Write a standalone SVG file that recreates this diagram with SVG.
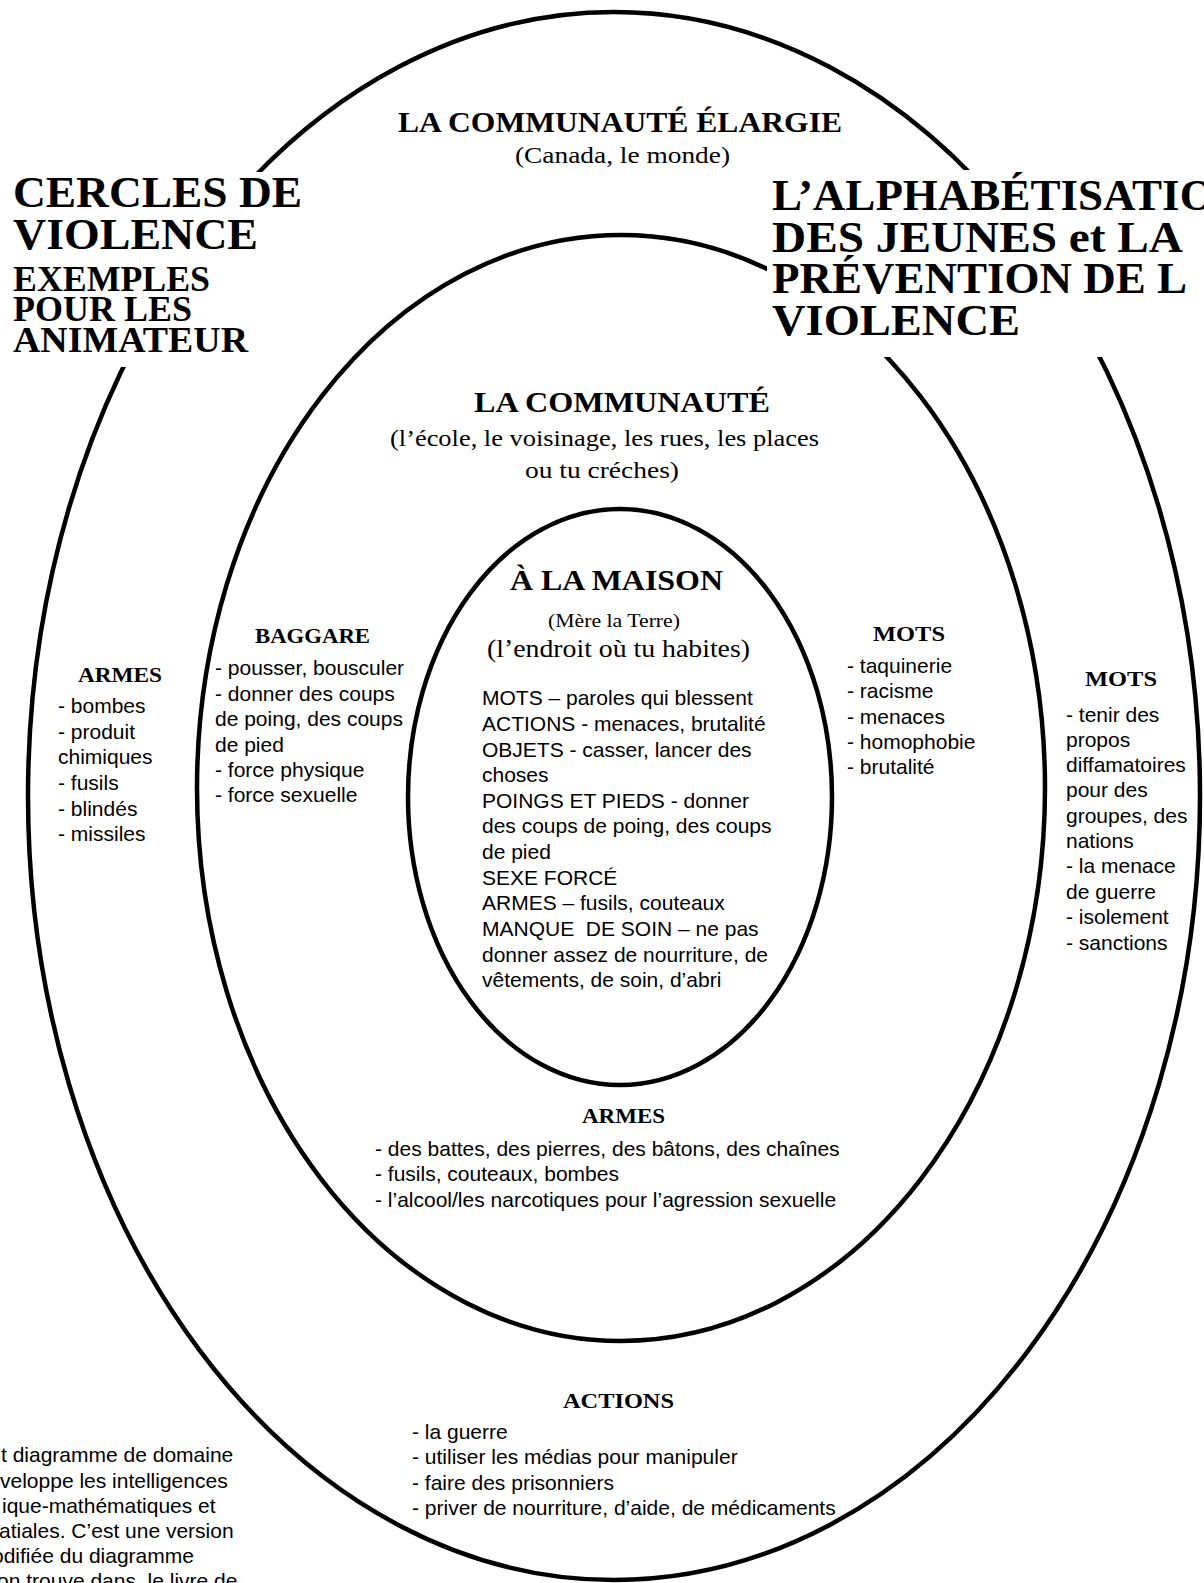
<svg xmlns="http://www.w3.org/2000/svg" width="1204" height="1583" viewBox="0 0 1204 1583">
<style>
.ring{fill:none;stroke:#000;stroke-width:4.5}
.mask{fill:#fff;stroke:none}
.big{font-family:"Liberation Serif",serif;font-weight:bold;font-size:45px;fill:#000}
.sub{font-family:"Liberation Serif",serif;font-weight:bold;font-size:35px;fill:#000}
.h{font-family:"Liberation Serif",serif;font-weight:bold;fill:#000}
.p{font-family:"Liberation Serif",serif;fill:#000}
.t{font-family:"Liberation Sans",Arial,sans-serif;font-size:21px;fill:#000}
.pre{white-space:pre}
</style>
<rect width="1204" height="1583" fill="#fff"/>
<g id="ring-outer"><ellipse class="ring" cx="614" cy="796" rx="586" ry="784"/></g>
<g id="ring-middle"><ellipse class="ring" cx="621" cy="788" rx="424" ry="553"/></g>
<g id="ring-inner"><ellipse class="ring" cx="620" cy="797" rx="212" ry="288"/></g>

<g id="title-left">
<rect class="mask" x="0" y="172" width="308" height="195"/>
<text class="big" x="13" y="207" textLength="289" lengthAdjust="spacingAndGlyphs">CERCLES DE</text>
<text class="big" x="13" y="249" textLength="245" lengthAdjust="spacingAndGlyphs">VIOLENCE</text>
<text class="sub" x="13" y="291" textLength="197" lengthAdjust="spacingAndGlyphs">EXEMPLES</text>
<text class="sub" x="13" y="321" textLength="179" lengthAdjust="spacingAndGlyphs">POUR LES</text>
<text class="sub" x="13" y="352" textLength="235" lengthAdjust="spacingAndGlyphs">ANIMATEUR</text>
</g>

<g id="title-right">
<rect class="mask" x="767" y="170" width="437" height="187"/>
<text class="big" x="772" y="210">L’ALPHABÉTISATIO</text>
<text class="big" x="772" y="252" textLength="411" lengthAdjust="spacingAndGlyphs">DES JEUNES et LA</text>
<text class="big" x="772" y="293">PRÉVENTION DE L</text>
<text class="big" x="772" y="335" textLength="248" lengthAdjust="spacingAndGlyphs">VIOLENCE</text>
</g>

<g id="label-wider">
<text class="h" font-size="29" x="398" y="132" textLength="444" lengthAdjust="spacingAndGlyphs">LA COMMUNAUTÉ ÉLARGIE</text>
<text class="p" font-size="23" x="515" y="163" textLength="215" lengthAdjust="spacingAndGlyphs">(Canada, le monde)</text>
</g>

<g id="label-community">
<text class="h" font-size="30" x="474" y="412" textLength="296" lengthAdjust="spacingAndGlyphs">LA COMMUNAUTÉ</text>
<text class="p" font-size="24" x="390" y="446" textLength="429" lengthAdjust="spacingAndGlyphs">(l’école, le voisinage, les rues, les places</text>
<text class="p" font-size="24" x="525" y="478" textLength="154" lengthAdjust="spacingAndGlyphs">ou tu créches)</text>
</g>

<g id="label-home">
<text class="h" font-size="30" x="510" y="590" textLength="213" lengthAdjust="spacingAndGlyphs">À LA MAISON</text>
<text class="p" font-size="18" x="548" y="627" textLength="132" lengthAdjust="spacingAndGlyphs">(Mère la Terre)</text>
<text class="p" font-size="25" x="487" y="657" textLength="263" lengthAdjust="spacingAndGlyphs">(l’endroit où tu habites)</text>
<text class="t" x="482" y="705">MOTS – paroles qui blessent</text>
<text class="t" x="482" y="731">ACTIONS - menaces, brutalité</text>
<text class="t" x="482" y="757">OBJETS - casser, lancer des</text>
<text class="t" x="482" y="782">choses</text>
<text class="t" x="482" y="808">POINGS ET PIEDS - donner</text>
<text class="t" x="482" y="833">des coups de poing, des coups</text>
<text class="t" x="482" y="859">de pied</text>
<text class="t" x="482" y="885">SEXE FORCÉ</text>
<text class="t" x="482" y="910">ARMES – fusils, couteaux</text>
<text class="t pre" x="482" y="936">MANQUE  DE SOIN – ne pas</text>
<text class="t" x="482" y="962">donner assez de nourriture, de</text>
<text class="t" x="482" y="987">vêtements, de soin, d’abri</text>
</g>

<g id="list-baggare">
<text class="h" font-size="22" x="255" y="643" textLength="115" lengthAdjust="spacingAndGlyphs">BAGGARE</text>
<text class="t" x="215" y="675">- pousser, bousculer</text>
<text class="t" x="215" y="701">- donner des coups</text>
<text class="t" x="215" y="726">de poing, des coups</text>
<text class="t" x="215" y="752">de pied</text>
<text class="t" x="215" y="777">- force physique</text>
<text class="t" x="215" y="802">- force sexuelle</text>
</g>

<g id="list-armes-outer">
<text class="h" font-size="22" x="78" y="682" textLength="84" lengthAdjust="spacingAndGlyphs">ARMES</text>
<text class="t" x="58" y="713">- bombes</text>
<text class="t" x="58" y="739">- produit</text>
<text class="t" x="58" y="764">chimiques</text>
<text class="t" x="58" y="790">- fusils</text>
<text class="t" x="58" y="816">- blindés</text>
<text class="t" x="58" y="841">- missiles</text>
</g>

<g id="list-mots-middle">
<text class="h" font-size="22" x="873" y="641" textLength="72" lengthAdjust="spacingAndGlyphs">MOTS</text>
<text class="t" x="847" y="673">- taquinerie</text>
<text class="t" x="847" y="698">- racisme</text>
<text class="t" x="847" y="724">- menaces</text>
<text class="t" x="847" y="749">- homophobie</text>
<text class="t" x="847" y="774">- brutalité</text>
</g>

<g id="list-mots-outer">
<text class="h" font-size="22" x="1085" y="686" textLength="72" lengthAdjust="spacingAndGlyphs">MOTS</text>
<text class="t" x="1066" y="722">- tenir des</text>
<text class="t" x="1066" y="747">propos</text>
<text class="t" x="1066" y="772">diffamatoires</text>
<text class="t" x="1066" y="797">pour des</text>
<text class="t" x="1066" y="823">groupes, des</text>
<text class="t" x="1066" y="848">nations</text>
<text class="t" x="1066" y="873">- la menace</text>
<text class="t" x="1066" y="899">de guerre</text>
<text class="t" x="1066" y="924">- isolement</text>
<text class="t" x="1066" y="950">- sanctions</text>
</g>

<g id="list-armes-middle">
<text class="h" font-size="22" x="582" y="1123" textLength="83" lengthAdjust="spacingAndGlyphs">ARMES</text>
<text class="t" x="375" y="1156">- des battes, des pierres, des bâtons, des chaînes</text>
<text class="t" x="375" y="1181">- fusils, couteaux, bombes</text>
<text class="t" x="375" y="1207">- l’alcool/les narcotiques pour l’agression sexuelle</text>
</g>

<g id="list-actions">
<text class="h" font-size="22" x="563" y="1408" textLength="111" lengthAdjust="spacingAndGlyphs">ACTIONS</text>
<text class="t" x="412" y="1439">- la guerre</text>
<text class="t" x="412" y="1464">- utiliser les médias pour manipuler</text>
<text class="t" x="412" y="1490">- faire des prisonniers</text>
<text class="t" x="412" y="1515">- priver de nourriture, d’aide, de médicaments</text>
</g>

<g id="note">
<text class="t" x="1" y="1462">t diagramme de domaine</text>
<text class="t" x="0" y="1488">veloppe les intelligences</text>
<text class="t" x="2" y="1513">ique-mathématiques et</text>
<text class="t" x="-1" y="1538">atiales. C’est une version</text>
<text class="t" x="-8" y="1563">odifiée du diagramme</text>
<text class="t pre" x="-3" y="1588">on trouve dans  le livre de</text>
</g>
</svg>
